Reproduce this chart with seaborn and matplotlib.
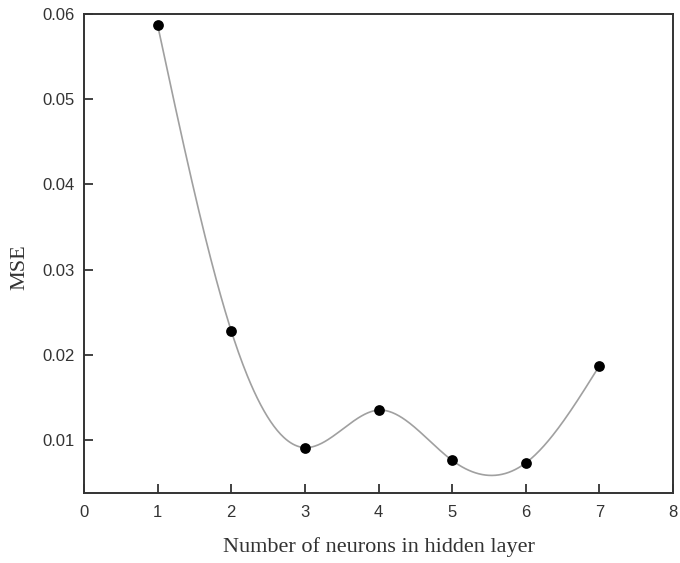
import numpy as np
import pandas as pd
import matplotlib
matplotlib.use("Agg")
import matplotlib.pyplot as plt
import seaborn as sns

neurons = [1, 2, 3, 4, 5, 6, 7]
mse = [0.0587, 0.0228, 0.0091, 0.0135, 0.0076, 0.0073, 0.0187]
x_ticks = [0, 1, 2, 3, 4, 5, 6, 7, 8]
y_ticks = [0.01, 0.02, 0.03, 0.04, 0.05, 0.06]
y_tick_labels = ["0.01", "0.02", "0.03", "0.04", "0.05", "0.06"]


def natural_spline(x, y, n=400):
    x = np.asarray(x, float)
    y = np.asarray(y, float)
    k = len(x)
    h = np.diff(x)
    A = np.zeros((k, k))
    b = np.zeros(k)
    A[0, 0] = 1
    A[-1, -1] = 1
    for i in range(1, k - 1):
        A[i, i - 1] = h[i - 1]
        A[i, i] = 2 * (h[i - 1] + h[i])
        A[i, i + 1] = h[i]
        b[i] = 3 * ((y[i + 1] - y[i]) / h[i] - (y[i] - y[i - 1]) / h[i - 1])
    c = np.linalg.solve(A, b)
    xs = np.linspace(x[0], x[-1], n)
    ys = np.empty_like(xs)
    for j, xv in enumerate(xs):
        i = min(np.searchsorted(x, xv, side="right") - 1, k - 2)
        d = xv - x[i]
        bb = (y[i + 1] - y[i]) / h[i] - h[i] * (2 * c[i] + c[i + 1]) / 3
        dd = (c[i + 1] - c[i]) / (3 * h[i])
        ys[j] = y[i] + bb * d + c[i] * d ** 2 + dd * d ** 3
    return xs, ys


sns.set_style("ticks")
plt.rcParams["font.family"] = ["Liberation Sans", "DejaVu Sans"]

fig = plt.figure(figsize=(6.8, 5.63), dpi=100)
# axes box: x 84..673 px, y 14..492.5 px
ax = fig.add_axes([84 / 680, 1 - 492.5 / 563, (673 - 84) / 680, (492.5 - 14) / 563])

xs, ys = natural_spline(neurons, mse)
curve = pd.DataFrame({"x": xs, "y": ys})
pts = pd.DataFrame({"x": neurons, "y": mse})

sns.lineplot(data=curve, x="x", y="y", ax=ax, color="#a0a0a0", linewidth=1.2)
sns.scatterplot(data=pts, x="x", y="y", ax=ax, color="black", s=60,
                edgecolor="black", linewidth=0, zorder=3)

ax.set_xlim(0, 8)
ax.set_ylim(0.00383, 0.06)
ax.set_xticks(x_ticks)
ax.set_xticklabels([str(t) for t in x_ticks])
ax.set_yticks(y_ticks)
ax.set_yticklabels(y_tick_labels)
ax.tick_params(direction="in", length=6.5, width=1.3, labelsize=12,
               colors="#333333", pad=7)
ax.tick_params(axis="x", pad=9)
for s in ax.spines.values():
    s.set_visible(True)
    s.set_linewidth(1.4)
    s.set_color("#333333")

ax.set_xlabel("Number of neurons in hidden layer", family="Liberation Serif",
              fontsize=16, labelpad=12, color="#333333")
ax.set_ylabel("MSE", family="Liberation Serif", fontsize=16, labelpad=9,
              color="#333333")
ax.yaxis.label.set_y(0.47)

fig.savefig("out.png", dpi=100)
